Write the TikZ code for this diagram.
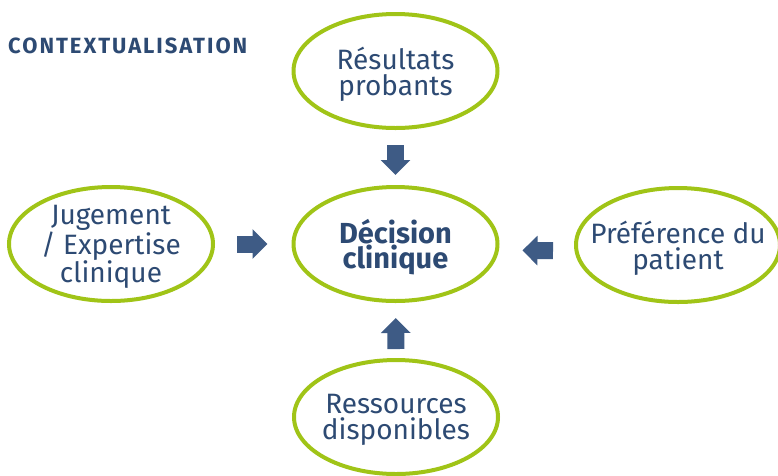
\documentclass[tikz,border=0pt]{standalone}
\usepackage{fontspec}
\setmainfont{Fira Sans}
\usetikzlibrary{shapes.geometric,arrows.meta}
\definecolor{leaf}{HTML}{A0C417}
\definecolor{ink}{HTML}{2D4A73}
\definecolor{slate}{HTML}{3E5B85}
\tikzset{
  bubble/.style={ellipse, draw=leaf, line width=4pt, fill=white,
    minimum width=204pt, minimum height=114pt, inner sep=0pt},
  txt/.style={text=ink, align=center, inner sep=0pt, yshift=-3pt,
    font=\fontsize{28}{26}\selectfont},
  boldtxt/.style={txt, font=\fontsize{29}{24.5}\selectfont\bfseries},
  blockarrow/.style={draw=slate, line width=17pt,
    -{Triangle[width=29pt,length=15pt]}},
}
\begin{document}
\begin{tikzpicture}[x=1pt,y=-1pt]
  \useasboundingbox (0,0) rectangle (778,475);
  \fill[white] (0,0) rectangle (778,475);

  % heading
  \node[anchor=base west, inner sep=0pt, text=ink,
        font=\fontsize{22}{22}\selectfont\bfseries\addfontfeatures{LetterSpace=9}]
        (ctx) at (8,53) {CONTEXTUALISATION};

  % the five ellipses
  \node[bubble, label={[txt]center:Résultats\\probants}] (res) at (395.5,71) {};
  \node[bubble, label={[boldtxt]center:Décision\\clinique}] (dec) at (395.5,244) {};
  \node[bubble, label={[txt]center:Jugement\\/ Expertise\\clinique}] (jug) at (111,244) {};
  \node[bubble, label={[txt]center:Préférence du\\patient}] (pref) at (678,245) {};
  \node[bubble, label={[txt]center:Ressources\\disponibles}] (ress) at (396,417) {};

  % block arrows towards the decision
  \draw[blockarrow, shorten <=15pt, shorten >=10pt] (res) -- (dec);
  \draw[blockarrow, shorten <=22pt, shorten >=24pt] (jug) -- (dec);
  \draw[blockarrow, shorten <=21pt, shorten >=23pt]
    ([yshift=-6pt]pref.west) -- ([yshift=-6pt]dec.east);
  \draw[blockarrow, shorten <=9pt, shorten >=15pt] (ress) -- (dec);
\end{tikzpicture}
\end{document}
